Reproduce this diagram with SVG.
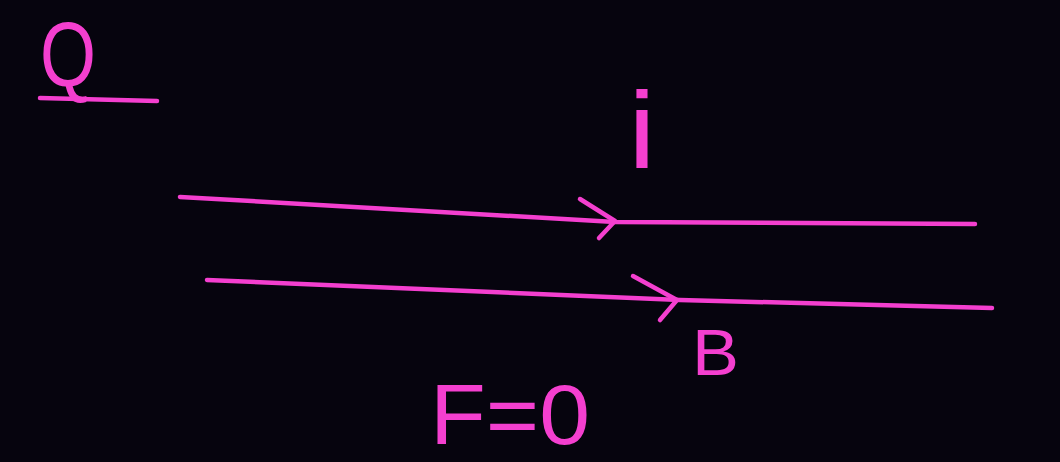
<svg xmlns="http://www.w3.org/2000/svg" width="1060" height="462" viewBox="0 0 1060 462">
<style>
.ink{fill:none;stroke:#f43fcf;stroke-width:4.5;stroke-linecap:round;stroke-linejoin:round}
.t{fill:#f43fcf;font-family:"Liberation Sans",Arial,sans-serif}
</style>
<rect width="1060" height="462" fill="#06040e"/>
<g id="label-Q">
<text class="t" x="40" y="86" font-size="90" textLength="56" lengthAdjust="spacingAndGlyphs">Q</text>
<path class="ink" d="M40 98 L157 101"/>
</g>
<g id="label-i">
<text class="t" x="628" y="168" font-size="110" textLength="28" lengthAdjust="spacingAndGlyphs">i</text>
</g>
<g id="connectors">
<g id="wire-top">
<path class="ink" d="M180 197 L615 222 L975 224"/>
<path class="ink" d="M580 199 L615 221 L599 238"/>
</g>
<g id="wire-bottom">
<path class="ink" d="M207 280 L680 300 L992 308"/>
<path class="ink" d="M633 276 L677 300 L660 320"/>
</g>
</g>
<g id="label-B">
<text class="t" x="692" y="375" font-size="64" textLength="47" lengthAdjust="spacingAndGlyphs">B</text>
</g>
<g id="label-F">
<text class="t" x="430" y="444" font-size="86" textLength="160" lengthAdjust="spacingAndGlyphs">F=0</text>
</g>
</svg>
